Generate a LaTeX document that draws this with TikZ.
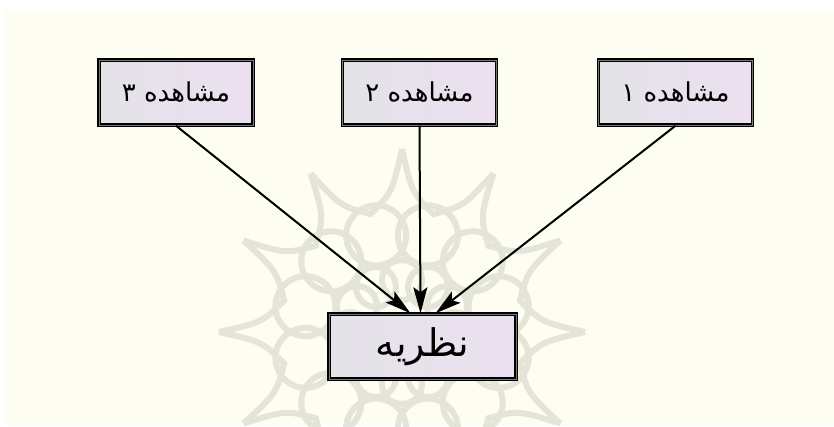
\documentclass[tikz,border=0pt]{standalone}
\usepackage{fontspec}
\usetikzlibrary{arrows.meta,calc}
\newfontfamily\arabicfont[Script=Arabic]{DejaVu Sans}
\TeXXeTstate=1
\definecolor{cream}{RGB}{253,253,241}
\definecolor{boxl}{RGB}{228,227,232}
\definecolor{boxr}{RGB}{236,224,240}
\definecolor{wm}{RGB}{228,228,216}
\definecolor{dbl}{RGB}{120,120,120}
\begin{document}
\begin{tikzpicture}[x=1pt,y=-1pt,
  obsbox/.style={draw=black, line width=1.4pt, double=dbl, double distance=0.8pt,
    left color=boxl, right color=boxr, minimum width=154pt, minimum height=65pt,
    inner sep=0pt, font=\arabicfont\fontsize{26}{31}\selectfont},
  thbox/.style={obsbox, minimum width=187pt, font=\arabicfont\fontsize{38}{44}\selectfont},
  edge/.style={draw=black, line width=2pt, -{Stealth[length=26pt,width=14pt,inset=5pt]}},
  wmline/.style={draw=wm, line width=6pt}]
\useasboundingbox (0,0) rectangle (834,426);
\clip (0,0) rectangle (834,426);
\fill[white] (0,0) rectangle (834,426);
\fill[cream] (5,10) rectangle (834,426);
% watermark rosette
\begin{scope}[shift={(402,332)}]
  \foreach \k in {0,...,11}{
    \pgfmathsetmacro{\a}{90+30*\k}
    \draw[wmline] (\a:183) .. controls (\a+4:140) .. (\a+15:122) .. controls (\a+26:140) .. (\a+30:183);
    \draw[wmline] (\a+15:100) circle (30);
    \draw[wmline] (\a:52) circle (20);
  }
\end{scope}
\node[obsbox] (o3) at (176,92.5) {\beginR مشاهده ۳\endR};
\node[obsbox] (o2) at (419.5,92.5) {\beginR مشاهده ۲\endR};
\node[obsbox] (o1) at (675.5,92.5) {\beginR مشاهده ۱\endR};
\node[thbox] (t) at (422.5,346.5) {\beginR نظریه\endR};
\coordinate (t3) at ($(t.north)+(-12,0)$);
\coordinate (t2) at ($(t.north)+(-2,0)$);
\coordinate (t1) at ($(t.north)+(13,0)$);
\draw[edge] (o3.south) -- (t3);
\draw[edge] (o2.south) -- (t2);
\draw[edge] (o1.south) -- (t1);
\end{tikzpicture}
\end{document}
